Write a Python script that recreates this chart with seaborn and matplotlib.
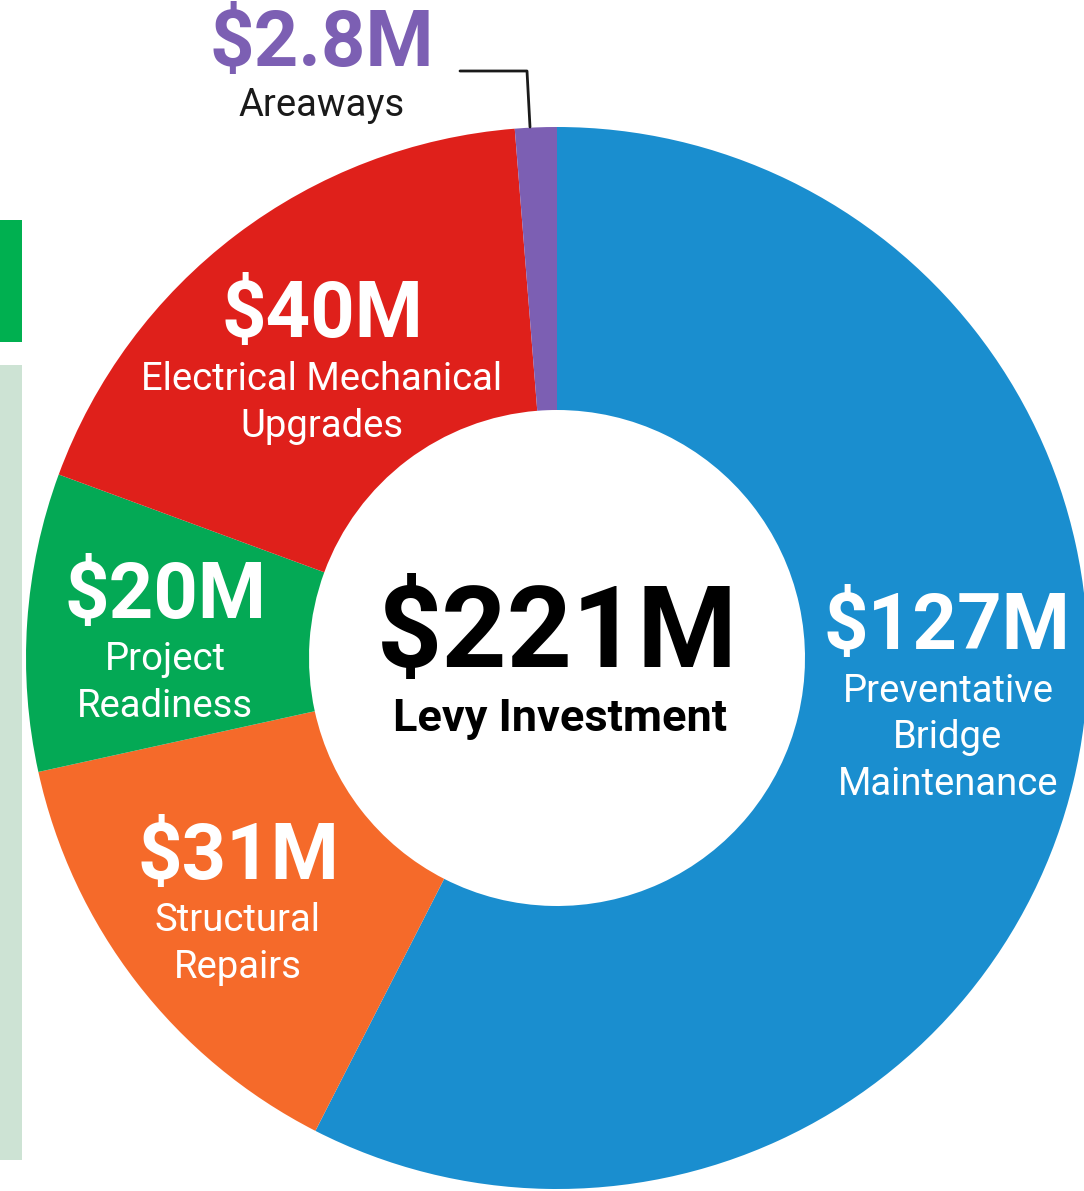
import matplotlib
matplotlib.use("Agg")
import matplotlib.pyplot as plt
import seaborn as sns
from matplotlib.patches import Rectangle

# Data
categories = ["Preventative\nBridge\nMaintenance", "Structural\nRepairs", "Project\nReadiness",
              "Electrical Mechanical\nUpgrades", "Areaways"]
amounts = [127, 31, 20, 40, 2.8]
amount_labels = ["$127M", "$31M", "$20M", "$40M", "$2.8M"]
colors = ["#1a8ecf", "#f56a2a", "#04a955", "#df201b", "#7c5fb3"]
total_label = "$221M"
total_caption = "Levy Investment"

sns.set_theme(style="white")
plt.rcParams["font.family"] = ["Roboto", "DejaVu Sans"]

W, H = 1084, 1191
fig = plt.figure(figsize=(W / 100, H / 100), dpi=100)
ax = fig.add_axes([0, 0, 1, 1])


def Y(y):
    return H - y


cx, cy = 557, 658
r_out, r_in = 531, 248
ax.pie(amounts, colors=colors, startangle=90, counterclock=False,
       center=(cx, Y(cy)), radius=r_out, frame=True,
       wedgeprops=dict(width=r_out - r_in, linewidth=0))
ax.set_xlim(0, W)
ax.set_ylim(0, H)
ax.set_aspect("equal")
ax.axis("off")

# left-edge artefacts of the original screenshot
ax.add_patch(Rectangle((0, Y(342)), 22, 122, color="#00b050", lw=0))
ax.add_patch(Rectangle((0, Y(1160)), 22, 795, color="#cde3d4", lw=0))

# label positions (image pixels): value centre, caption centre
value_pos = [(947, 628), (238, 858), (165, 597), (322, 316), (322, 45)]
cap_pos = [(948, 738), (238, 944), (165, 683), (322, 403), (322, 106)]
value_colors = ["white", "white", "white", "white", colors[4]]
cap_colors = ["white", "white", "white", "white", "#1a1a1a"]

for i in range(len(amounts)):
    vx, vy = value_pos[i]
    ax.text(vx, Y(vy), amount_labels[i], ha="center", va="center",
            fontsize=56, fontweight="bold", color=value_colors[i])
    tx, ty = cap_pos[i]
    ax.text(tx, Y(ty), categories[i], ha="center", va="center",
            fontsize=27.5, color=cap_colors[i], linespacing=1.34)

# leader line for Areaways
ax.plot([460, 527, 530], [Y(71), Y(71), Y(127)], color="#1a1a1a", lw=2)

# centre text
ax.text(cx, Y(636), total_label, ha="center", va="center",
        fontsize=82, fontweight="bold", color="black")
ax.text(cx + 3, Y(719), total_caption, ha="center", va="center",
        fontsize=32.5, fontweight="bold", color="black")

fig.savefig("out.png", dpi=100)
